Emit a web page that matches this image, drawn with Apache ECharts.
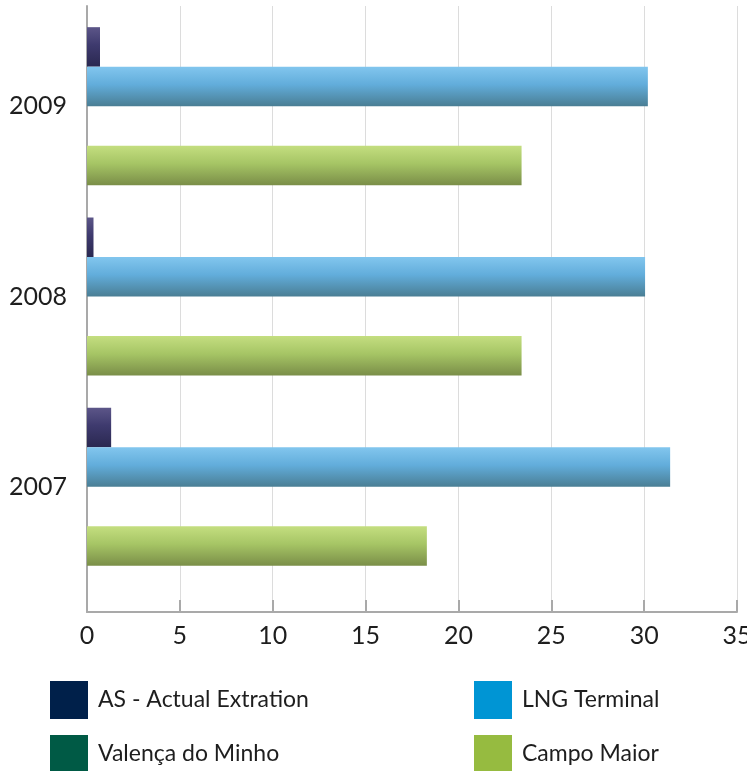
<!DOCTYPE html>
<html><head><meta charset="utf-8">
<script src="https://cdn.jsdelivr.net/npm/echarts@6/dist/echarts.min.js"></script>
<style>html,body{margin:0;padding:0;background:#fff}#c{width:747px;height:771px}</style>
</head><body><div id="c"></div>
<script>
var categories = ['2007', '2008', '2009'];
var asActual = [1.3, 0.35, 0.7];
var lngTerminal = [31.4, 30.05, 30.2];
var valenca = [0, 0, 0];
var campoMaior = [18.3, 23.4, 23.4];
var xTicks = [0, 5, 10, 15, 20, 25, 30, 35];

function grad(top, mid, bot) {
  return new echarts.graphic.LinearGradient(0, 0, 0, 1, [
    {offset: 0, color: top}, {offset: 0.45, color: mid}, {offset: 1, color: bot}
  ]);
}
var FONT = 'Lato';
function leg(name, color, left, top) {
  return {show: true, orient: 'horizontal', left: left, top: top, padding: 0,
    icon: 'rect', itemWidth: 38, itemHeight: 38,
    textStyle: {fontSize: 23, fontFamily: FONT, color: '#1e1e1e', padding: [0, 0, 0, 5]},
    itemGap: 0, selectedMode: false,
    data: [{name: name, itemStyle: {color: color}}]};
}
var chart = echarts.init(document.getElementById('c'));
var xMin = xTicks[0], xMax = xTicks[xTicks.length - 1], xInt = xTicks[1] - xTicks[0];
chart.setOption({
  animation: false,
  grid: [
    {left: 87, right: 10, top: 6, bottom: 159, containLabel: false, outerBoundsMode: 'none'},
    {left: 87, right: 10, top: 11, bottom: 189, containLabel: false, outerBoundsMode: 'none'}
  ],
  xAxis: [
    {type: 'value', gridIndex: 0, min: xMin, max: xMax, interval: xInt,
     axisLine: {show: true, lineStyle: {color: '#a9a9a9', width: 2}},
     axisTick: {show: true, inside: true, length: 12, lineStyle: {color: '#a9a9a9', width: 2}},
     splitLine: {show: true, lineStyle: {color: '#dcdcdc', width: 1}},
     axisLabel: {color: '#1e1e1e', fontSize: 25, fontFamily: FONT, margin: 11}},
    {type: 'value', gridIndex: 1, min: xMin, max: xMax, interval: xInt, show: false}
  ],
  yAxis: [
    {type: 'category', gridIndex: 0, data: categories,
     axisLine: {show: true, lineStyle: {color: '#a9a9a9', width: 2}},
     axisTick: {show: false}, axisLabel: {show: false}, splitLine: {show: false}},
    {type: 'category', gridIndex: 1, data: categories,
     axisLine: {show: false}, axisTick: {show: false}, splitLine: {show: false},
     axisLabel: {color: '#1e1e1e', fontSize: 25, fontFamily: FONT, margin: 20}}
  ],
  legend: [
    leg('AS - Actual Extration', '#00204a', 50, 681),
    leg('Valença do Minho', '#005a45', 50, 735),
    leg('LNG Terminal', '#0095d4', 474, 681),
    leg('Campo Maior', '#96bb40', 474, 735)
  ],
  series: [
    {name: 'AS - Actual Extration', type: 'bar', xAxisIndex: 1, yAxisIndex: 1, data: asActual,
     barWidth: 39.5, barGap: '0%',
     itemStyle: {color: grad('#5c5688', '#3e3a6e', '#2a2850')}},
    {name: 'LNG Terminal', type: 'bar', xAxisIndex: 1, yAxisIndex: 1, data: lngTerminal,
     barWidth: 39.5, barGap: '0%',
     itemStyle: {color: grad('#82c6ee', '#62addb', '#4a7e94')}},
    {name: 'Valença do Minho', type: 'bar', xAxisIndex: 1, yAxisIndex: 1, data: valenca,
     barWidth: 39.5, barGap: '0%',
     itemStyle: {color: '#005a45'}},
    {name: 'Campo Maior', type: 'bar', xAxisIndex: 1, yAxisIndex: 1, data: campoMaior,
     barWidth: 39.5, barGap: '0%',
     itemStyle: {color: grad('#c4de80', '#a6c565', '#7a8e48')}}
  ]
});
</script></body></html>
